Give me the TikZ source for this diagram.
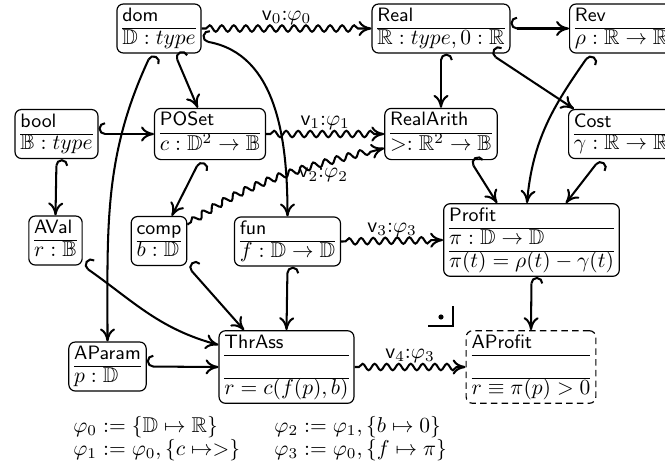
\documentclass[tikz,border=0pt]{standalone}
\usepackage{amssymb}
\usetikzlibrary{arrows.meta,decorations.pathmorphing,calc}

\renewcommand{\arraystretch}{0.85}
\newcommand{\thybox}[2]{\begin{tabular}{@{}l@{}}{\small\sffamily #1}\\\hline #2\end{tabular}}

\tikzset{
  thy/.style={draw, line width=0.55pt, rounded corners=3pt, inner xsep=2.5pt, inner ysep=1pt},
  incl/.style={line width=0.95pt, {Hooks[right,length=3pt,width=11pt]}-{Computer Modern Rightarrow[length=6pt,width=7pt]}},
  view/.style={line width=0.95pt, -{Computer Modern Rightarrow[length=6pt,width=7pt]}, decorate,
    decoration={snake, amplitude=1.5pt, segment length=5.6pt, pre length=2pt, post length=4pt}},
  vlbl/.style={inner sep=1.5pt}
}

\begin{document}
\begin{tikzpicture}[x=0.4651pt, y=-0.4651pt]
\useasboundingbox (0,0) rectangle (665,468);

% Theories
\node[thy] (dom) at (159,28.5) {\thybox{dom}{$\mathbb{D} : type$}};
\node[thy] (Real) at (441,28.5) {\thybox{Real}{$\mathbb{R} : type, 0 : \mathbb{R}$}};
\node[thy, anchor=west] (Rev) at (569,28.5) {\thybox{Rev}{$\rho : \mathbb{R} \to \mathbb{R}$}};
\node[thy] (bool) at (56.5,134) {\thybox{bool}{$\mathbb{B} : type$}};
\node[thy] (POSet) at (210,134) {\thybox{POSet}{$c : \mathbb{D}^2 \to \mathbb{B}$}};
\node[thy] (RealArith) at (441,134) {\thybox{RealArith}{$> : \mathbb{R}^2 \to \mathbb{B}$}};
\node[thy, anchor=west] (Cost) at (568,134) {\thybox{Cost}{$\gamma : \mathbb{R} \to \mathbb{R}$}};
\node[thy] (AVal) at (55.5,240.5) {\thybox{AVal}{$r : \mathbb{B}$}};
\node[thy] (comp) at (159,241) {\thybox{comp}{$b : \mathbb{D}$}};
\node[thy] (fun) at (287.5,241.5) {\thybox{fun}{$f : \mathbb{D} \to \mathbb{D}$}};
\node[thy] (Profit) at (531.5,240) {\thybox{Profit}{$\pi : \mathbb{D} \to \mathbb{D}$\\\hline $\pi(t) = \rho(t) - \gamma(t)$}};
\node[thy] (AParam) at (107.5,366.5) {\thybox{AParam}{$p : \mathbb{D}$}};
\node[thy] (ThrAss) at (286.5,367) {\thybox{ThrAss}{\\\hline $r = c(f(p), b)$}};
\node[thy, dash pattern=on 3pt off 2pt] (AProfit) at (531,367) {\thybox{AProfit}{\\\hline $r \equiv \pi(p) > 0$}};

% Inclusions
\draw[incl] (dom.-58) -- (POSet.115);
\draw[incl] (dom.-107) to[out=-115,in=90] (AParam.north);
\draw[incl] (dom.-16) to[out=-10,in=90] (fun.north);
\draw[incl] (Real.east) -- (Rev.west);
\draw[incl] (Real.south) -- (RealArith.north);
\draw[incl] (Real.-27) -- ($(Cost.north west)+(6,0)$);
\draw[incl] ($(Rev.south west)+(21,0)$) to[out=-125,in=85] (Profit.97);
\draw[incl] ($(Cost.south west)+(32,0)$) -- (Profit.47);
\draw[incl] (RealArith.-42) -- (Profit.133);
\draw[incl] (bool.east) -- (POSet.west);
\draw[incl] (bool.south) -- (AVal.north);
\draw[incl] (POSet.-111) -- (comp.63);
\draw[incl] (comp.south east) -- (ThrAss.139);
\draw[incl] (fun.south) -- (ThrAss.north);
\draw[incl] (AVal.south east) to[out=-35,in=165] (ThrAss.162);
\draw[incl] (AParam.east) -- (ThrAss.west);
\draw[incl] (Profit.south) -- (AProfit.north);

% Views
\draw[view] (dom.east) -- node[vlbl, above] {$\mathsf{v}_0{:}\varphi_0$} (Real.west);
\draw[view] (POSet.east) -- node[vlbl, above] {$\mathsf{v}_1{:}\varphi_1$} (RealArith.west);
\draw[view] (comp.30) to[out=35,in=195] node[vlbl, pos=0.72, below] {$\mathsf{v}_2{:}\varphi_2$} (RealArith.194);
\draw[view] (fun.east) -- node[vlbl, above] {$\mathsf{v}_3{:}\varphi_3$} (Profit.west);
\draw[view] (ThrAss.east) -- node[vlbl, above] {$\mathsf{v}_4{:}\varphi_3$} (AProfit.west);

% Pullback corner
\fill (441,317) circle (1.2pt);
\draw[semithick] (428,326) -- (453,326) -- (453,306);

% Substitutions
\node[anchor=west, inner sep=0pt] (defs) at (73,439) {$\begin{array}{@{}l@{\hspace{16pt}}l@{}}
\varphi_0 := \{\mathbb{D} \mapsto \mathbb{R}\} & \varphi_2 := \varphi_1, \{b \mapsto 0\} \\
\varphi_1 := \varphi_0, \{c \mapsto >\} & \varphi_3 := \varphi_0, \{f \mapsto \pi\}
\end{array}$};
\end{tikzpicture}
\end{document}
